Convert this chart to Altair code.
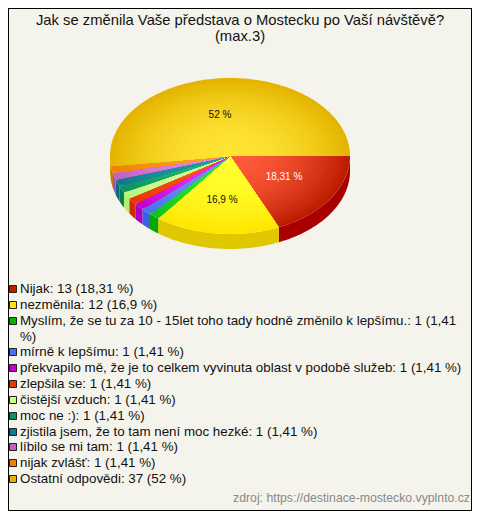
import math
import altair as alt
import pandas as pd

TITLE = ["Jak se změnila Vaše představa o Mostecku po Vaší návštěvě?", "(max.3)"]
SOURCE = "zdroj: https://destinace-mostecko.vyplnto.cz"
labels = ["Nijak", "nezměnila",
          "Myslím, že se tu za 10 - 15let toho tady hodně změnilo k lepšímu.",
          "mírně k lepšímu", "překvapilo mě, že je to celkem vyvinuta oblast v podobě služeb",
          "zlepšila se", "čistější vzduch", "moc ne :)",
          "zjistila jsem, že to tam není moc hezké", "líbilo se mi tam", "nijak zvlášť", "Ostatní odpovědi"]
counts = [13, 12, 1, 1, 1, 1, 1, 1, 1, 1, 1, 37]
pcts = ["18,31", "16,9", "1,41", "1,41", "1,41", "1,41", "1,41", "1,41", "1,41", "1,41", "1,41", "52"]
swatch = ["#c02000", "#ffe800", "#00b800", "#4a70f0", "#c000d0", "#e83800", "#c8ff80", "#109060", "#107890", "#c060c0", "#f08000", "#e8b000"]
inner = ["#ff5a3a", "#ffff30", "#30e830", "#7090ff", "#f030f0", "#ff5020", "#d8ff98", "#20b878", "#2098a8", "#e488e4", "#ffa020", "#ffe434"]
outer = ["#bc1c00", "#ffe600", "#10c020", "#4a70f0", "#c000d0", "#e83800", "#b8f880", "#109060", "#107890", "#c060c0", "#f08000", "#e4b400"]
side = ["#a80000", "#e0c800", "#00a800", "#3a60e0", "#a800c0", "#d02800", "#b0f070", "#0a7a50", "#0a6a80", "#a050b0", "#d86800", "#d8a000"]

W, H = 464, 503
OX, OY = 8, 8
CX, CY, RX, RY, DEPTH = 230 - OX, 156 - OY, 120, 78, 15
RINGS = 28


def mix(a, b, t):
    pa = [int(a[i:i + 2], 16) for i in (1, 3, 5)]
    pb = [int(b[i:i + 2], 16) for i in (1, 3, 5)]
    return "#%02x%02x%02x" % tuple(round(x + (y - x) * t) for x, y in zip(pa, pb))


def pt(a, f=1.0, dy=0.0):
    return [CX + RX * f * math.cos(a), CY + RY * f * math.sin(a) + dy]


def arc(a0, a1, f=1.0, dy=0.0):
    n = max(2, int((a1 - a0) / 0.02))
    return [pt(a0 + (a1 - a0) * i / n, f, dy) for i in range(n + 1)]


def feature(coords, col):
    return {"type": "Feature", "properties": {"col": col},
            "geometry": {"type": "Polygon", "coordinates": [coords + [coords[0]]]}}


total = sum(counts)
features = []
spans = []
acc = 0
for c in counts:
    spans.append((acc / total * 2 * math.pi, (acc + c) / total * 2 * math.pi))
    acc += c
for (a0, a1), s in zip(spans, side):
    b0, b1 = max(a0, 0), min(a1, math.pi)
    if b1 > b0:
        features.append(feature(arc(b0, b1) + arc(b0, b1, 1.0, DEPTH)[::-1], s))
for (a0, a1), i_c, o_c in zip(spans, inner, outer):
    for r in range(RINGS, 0, -1):
        f = r / RINGS
        features.append(feature([[CX, CY]] + arc(a0, a1, f), mix(i_c, o_c, f ** 2)))

pie = alt.Chart(alt.InlineData(values={"type": "FeatureCollection", "features": features},
                               format=alt.DataFormat(property="features", type="json"))
                ).mark_geoshape(strokeWidth=0).encode(
    color=alt.Color("properties.col:N", scale=None, legend=None)
).project(type="identity", scale=1, translate=[0, 0])

# legend
rows = []
row = 0
for lab, c, p, col in zip(labels, counts, pcts, swatch):
    full = f"{lab}: {c} ({p} %)"
    if full.startswith("Myslím"):
        rows.append({"row": row, "text": f"{lab}: {c} ({p}", "col": col, "sw": True})
        row += 1
        rows.append({"row": row, "text": "%)", "col": col, "sw": False})
    else:
        rows.append({"row": row, "text": full, "col": col, "sw": True})
    row += 1
legend_df = pd.DataFrame(rows)
y_scale = alt.Scale(domain=[0, 12], range=[289 - OY, 479 - OY], round=True)
px_x = alt.Scale(domain=[0, W], range=[0, W])
px_y = alt.Scale(domain=[0, H], range=[0, H])
FONT = "Liberation Sans"
leg_text = alt.Chart(legend_df).mark_text(align="left", baseline="middle", font=FONT, fontSize=13.35, color="#111111").encode(
    x=alt.value(20 - OX),
    y=alt.Y("row:Q", scale=y_scale, axis=None),
    text="text:N")
leg_sw = alt.Chart(legend_df[legend_df.sw]).mark_point(shape="square", filled=True, opacity=1, size=49, strokeWidth=1, stroke="#222222").encode(
    x=alt.value(13 - OX),
    y=alt.Y("row:Q", scale=y_scale, axis=None),
    fill=alt.Color("col:N", scale=None, legend=None))

title_df = pd.DataFrame({"text": TITLE, "y": [25 - OY, 41 - OY]})
title = alt.Chart(title_df).mark_text(font=FONT, fontSize=14.8, color="#111111", baseline="alphabetic").encode(
    x=alt.value(240 - OX), y=alt.Y("y:Q", scale=px_y, axis=None), text="text:N")

pct_df = pd.DataFrame({"text": ["52 %", "18,31 %", "16,9 %"], "xp": [220 - OX, 284 - OX, 222 - OX], "yp": [115 - OY, 177 - OY, 200 - OY], "c": ["#111111", "#ffffff", "#111111"]})
pct_text = alt.Chart(pct_df).mark_text(font=FONT, fontSize=10, baseline="middle").encode(
    x=alt.X("xp:Q", scale=px_x, axis=None), y=alt.Y("yp:Q", scale=px_y, axis=None),
    text="text:N", color=alt.Color("c:N", scale=None, legend=None))

source = alt.Chart(pd.DataFrame({"t": [SOURCE]})).mark_text(font=FONT, fontSize=12.26, color="#888888", align="right", baseline="alphabetic").encode(
    x=alt.value(470 - OX), y=alt.value(502 - OY), text="t:N")


def frame(**kw):
    return alt.Chart(pd.DataFrame({"a": [0]})).mark_rule(color="#000000", strokeWidth=1).encode(**kw)


frames = [frame(x=alt.value(W - 0.5), y=alt.value(0), y2=alt.value(H)),
          frame(y=alt.value(H - 0.5), x=alt.value(0), x2=alt.value(W)),
          frame(x=alt.value(0.5), y=alt.value(0), y2=alt.value(H)),
          frame(y=alt.value(0.5), x=alt.value(0), x2=alt.value(W))]

chart = alt.layer(pie, title, pct_text, leg_sw, leg_text, source, *frames).resolve_scale(
    x="independent", y="independent", color="independent", fill="independent"
).properties(width=W, height=H, padding=0, background="#f5f4ec", autosize=alt.AutoSizeParams(type="none")
).configure_view(stroke=None)

chart.save("out.html", embed_options={"renderer": "svg", "actions": False})
